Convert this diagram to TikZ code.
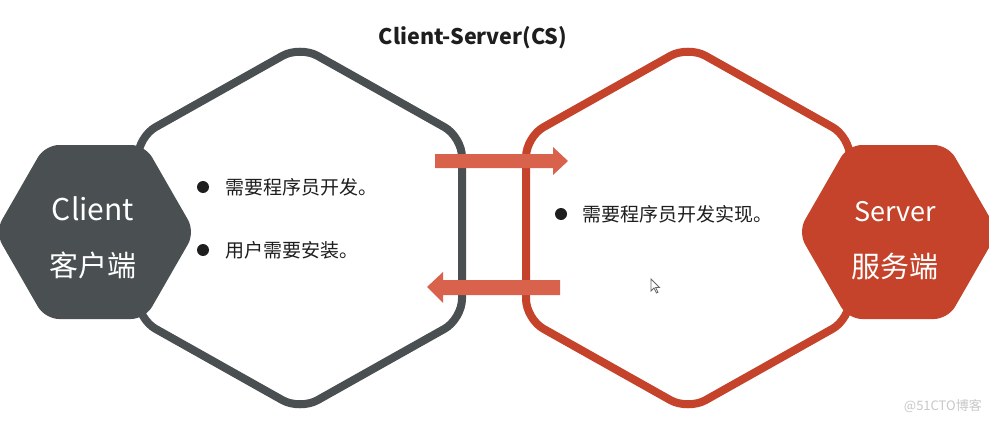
\documentclass[tikz,border=0pt]{standalone}
\usepackage{fontspec}
\setmainfont{Noto Sans CJK SC}
\newfontfamily\cjk{Noto Sans CJK SC}
\definecolor{hexgray}{HTML}{4A4F51}
\definecolor{hexred}{HTML}{C4432A}
\definecolor{arrowred}{HTML}{D9624C}
\definecolor{txtdark}{HTML}{1E1E1E}
\definecolor{wmgray}{HTML}{C8C8C8}
\tikzset{
  bigoutline/.style={line width=8pt, rounded corners=20pt, line join=round},
  smallhex/.style={rounded corners=14pt},
  bullettext/.style={anchor=west, inner sep=0pt, text=txtdark, font=\cjk\fontsize{19}{19}\selectfont},
  dotmark/.style={circle, fill=txtdark, inner sep=0pt, minimum size=12pt},
  hexlabel/.style={text=white, inner sep=0pt, font=\cjk\fontsize{29}{29}\selectfont},
  flowarrow/.style={fill=arrowred, draw=none}
}
\begin{document}
\begin{tikzpicture}[x=1pt,y=-1pt]
\clip (0,0) rectangle (989,423);
\fill[white] (0,0) rectangle (989,423);

% big outlined hexagons
\draw[bigoutline, hexgray] (462,228) -- (462,319) -- (300,410) -- (138,319) -- (138,137) -- (300,46) -- (462,137) -- cycle;
\draw[bigoutline, hexred] (850,228) -- (850,319) -- (688,410) -- (526,319) -- (526,137) -- (688,46) -- (850,137) -- cycle;

% small filled hexagons
\fill[smallhex, hexgray] (95,145) -- (145,145) -- (195,232) -- (145,319) -- (45,319) -- (-5,232) -- (45,145) -- cycle;
\fill[smallhex, hexred] (898,145) -- (948,145) -- (998,232) -- (948,319) -- (848,319) -- (798,232) -- (848,145) -- cycle;

\node[hexlabel, font=\cjk\fontsize{30}{30}\selectfont] (client) at (93,209) {Client};
\node[hexlabel] (clientcn) at (93,265) {客户端};
\node[hexlabel, font=\cjk\fontsize{27}{27}\selectfont] (server) at (895,212) {Server};
\node[hexlabel] (servercn) at (895,266) {服务端};

% title
\node[font=\cjk\bfseries\fontsize{21.5}{21.5}\selectfont, text=txtdark] (title) at (473,38) {Client-Server(CS)};

% bullets
\node[dotmark] (d1) at (203,187) {};
\node[bullettext] (t1) at (225,187) {需要程序员开发。};
\node[dotmark] (d2) at (203,250) {};
\node[bullettext] (t2) at (225,250) {用户需要安装。};
\node[dotmark] (d3) at (561,214) {};
\node[bullettext] (t3) at (582,214) {需要程序员开发实现。};

% arrows
\coordinate (a1tail) at (435,161);
\coordinate (a1tip) at (568,161);
\fill[flowarrow] (435,154) -- (553,154) -- (553,147) -- (a1tip) -- (553,175) -- (553,168) -- (435,168) -- cycle;
\coordinate (a2tail) at (560,287);
\coordinate (a2tip) at (427,287);
\fill[flowarrow] (560,280) -- (443,280) -- (443,272) -- (a2tip) -- (443,303) -- (443,295) -- (560,295) -- cycle;

% mouse cursor
\draw[line width=0.8pt, draw=gray!80!black, fill=white] (651,279) -- (651,291) -- (654,288) -- (656.5,293) -- (658,292.3) -- (655.6,287.5) -- (659.5,287.5) -- cycle;

% watermark
\node[font=\fontsize{13}{13}\selectfont, text=wmgray, anchor=east, inner sep=0pt] (wm) at (982,406) {@51CTO博客};
\end{tikzpicture}
\end{document}
